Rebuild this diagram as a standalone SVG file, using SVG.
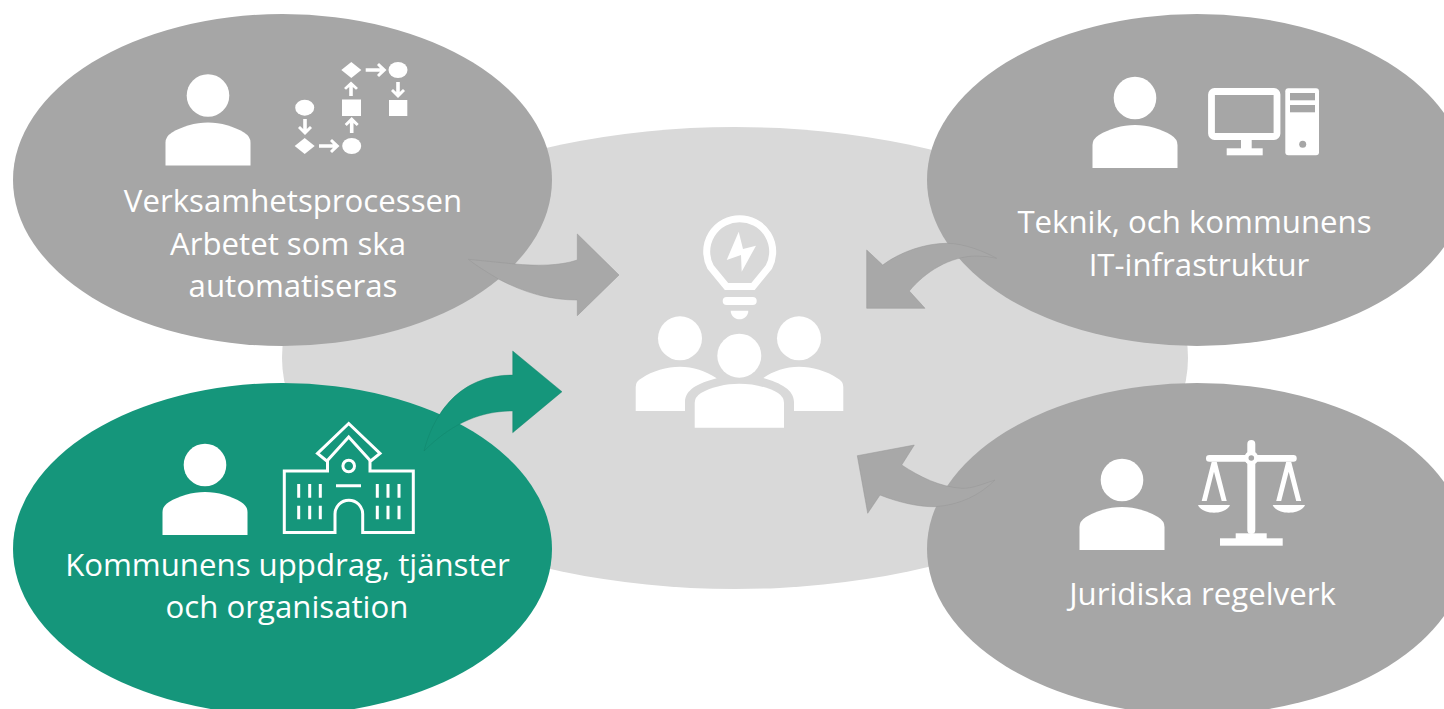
<svg xmlns="http://www.w3.org/2000/svg" width="1444" height="709" viewBox="0 0 1444 709">
<style>
.g{fill:#a6a6a6}
.t{fill:#fff;font-family:"Open Sans","Noto Sans","Liberation Sans",sans-serif;font-size:31.2px;text-anchor:middle}
.w{fill:#fff}
.l{fill:none;stroke:#fff;stroke-width:3}
.ag{fill:#a8a8a8;stroke:#979797;stroke-width:.5}
</style>
<defs>
<g id="person"><circle cx="0" cy="0" r="21.3" fill="#fff"/><path fill="#fff" d="M-42.5 70V47Q-42.5 41-36 37C-26 31-13 27 0 27C13 27 26 31 36 37Q42.5 41 42.5 47V70Z"/></g>
<path id="ad" fill="#fff" d="M-1.8 0H1.8V10L5 7L7 9L0 16L-7 9L-5 7L-1.8 10Z"/>
<path id="dia" fill="#fff" d="M-10 0L0-8L10 0L0 8Z"/>
</defs>
<rect width="1444" height="709" fill="#fff"/>
<g id="center">
<ellipse cx="735" cy="358" rx="453" ry="231" fill="#d9d9d9"/>
<g id="bulb">
<path d="M726.5 286.5L710.5 267A33 33 0 1 1 768.9 267L753 286.5Z" fill="none" stroke="#fff" stroke-width="7"/>
<path class="w" d="M738.7 231.7L726.7 260L741 255L741.7 271.7L756 245.7L743 249Z"/>
<rect class="w" x="722.7" y="297" width="34" height="8" rx="4"/>
<path class="w" d="M730.7 310.7H748.3C748.3 316 744 319.3 739.5 319.3C735 319.3 730.7 316 730.7 310.7Z"/>
</g>
<g id="people">
<circle class="w" cx="680" cy="338.3" r="22"/><circle class="w" cx="799" cy="338.3" r="22"/><circle class="w" cx="739.3" cy="355.7" r="22"/>
<path class="w" d="M635.7 411V387Q635.7 381 642 378C652 371 667 366.7 680 366.7C693 366.7 706 371 716.7 378.3C698 383 685 390 685 402V411Z"/>
<path class="w" d="M843.3 411V387Q843.3 381 837 378C827 371 812 366.7 799 366.7C786 366.7 773 371 763.3 378C781 383 794 390 794 402V411Z"/>
<path class="w" d="M694.7 427.7V403Q694.7 397 701 393C711 387 726 383.7 739.3 383.7C753 383.7 768 387 778 393Q784 397 784 403V427.7Z"/>
</g>
</g>
<g id="node-process">
<ellipse class="g" cx="282.5" cy="180" rx="269.5" ry="166"/>
<use href="#person" x="208" y="95.5"/>
<g id="flow">
<ellipse class="w" cx="304.7" cy="107.7" rx="9.5" ry="8"/><use href="#ad" x="305" y="119"/>
<use href="#dia" x="304.7" y="146"/>
<path class="w" d="M319 144.3H333L330 141L332 139L339.5 146L332 153L330 151L333 147.7H319Z"/>
<ellipse class="w" cx="351.7" cy="146" rx="9.5" ry="8"/>
<use href="#ad" transform="translate(351.7 133) scale(1 -1)"/>
<rect class="w" x="342" y="99.5" width="19" height="16.5"/>
<use href="#ad" transform="translate(351 96) scale(1 -.9)"/>
<use href="#dia" x="351.3" y="70"/>
<path class="w" d="M365.7 68.3H380L377 65L379 63L386.5 70L379 77L377 75L380 71.7H365.7Z"/>
<ellipse class="w" cx="398" cy="70" rx="9.5" ry="8"/><use href="#ad" x="398" y="82"/>
<rect class="w" x="389" y="100" width="18.3" height="16"/>
</g>
<text class="t"><tspan x="293" y="212">Verksamhetsprocessen</tspan><tspan x="288" y="255">Arbetet som ska</tspan><tspan x="293" y="297">automatiseras</tspan></text>
</g>
<g id="node-tech">
<ellipse class="g" cx="1197" cy="180" rx="270" ry="166"/>
<use href="#person" x="1135" y="98"/>
<g id="computer">
<rect x="1211.5" y="91.5" width="65.5" height="45" rx="3" fill="none" stroke="#fff" stroke-width="6.8"/>
<rect class="w" x="1241" y="140" width="10.7" height="9"/><rect class="w" x="1226.7" y="148.3" width="36" height="7"/>
<rect class="w" x="1285.3" y="88.3" width="33.7" height="67" rx="3"/>
<rect class="g" x="1290" y="93" width="25" height="7.3"/><rect class="g" x="1290" y="105" width="25" height="7.3"/>
<circle class="g" cx="1302.7" cy="144.3" r="3.5"/>
</g>
<text class="t"><tspan x="1194.5" y="233">Teknik, och kommunens</tspan><tspan x="1199" y="276">IT-infrastruktur</tspan></text>
</g>
<g id="node-law">
<ellipse class="g" cx="1197" cy="549" rx="270" ry="166"/>
<use href="#person" x="1122" y="480"/>
<g id="scales">
<rect class="w" x="1247.3" y="440" width="8" height="94" rx="4"/>
<rect class="w" x="1206" y="455" width="90.7" height="6.7" rx="3.3"/>
<circle class="w" cx="1251.3" cy="458" r="7"/><circle class="g" cx="1251.3" cy="458" r="2.8"/>
<rect class="w" x="1235.7" y="533.3" width="31" height="6"/><rect class="w" x="1220" y="538.3" width="62.7" height="7.4"/>
<path class="w" d="M1211.7 461.7H1216.7L1226.7 501H1221.7L1214 471.7L1206.7 501H1201.7Z"/>
<path class="w" d="M1198 505H1230C1228 510 1221 512.7 1214 512.7C1207 512.7 1200 510 1198 505Z"/>
<path class="w" d="M1286.2 461.7H1291.2L1301.2 501H1296.2L1288.7 471.7L1281.2 501H1276.2Z"/>
<path class="w" d="M1272.7 505H1305C1303 510 1296 512.7 1288.7 512.7C1281.7 512.7 1274.7 510 1272.7 505Z"/>
</g>
<text class="t"><tspan x="1202.5" y="605">Juridiska regelverk</tspan></text>
</g>
<g id="node-mission">
<ellipse cx="282.5" cy="549" rx="269.5" ry="166" fill="#15967b"/>
<use href="#person" x="205" y="465"/>
<g id="building">
<path class="l" d="M335 532.5H284.3V471H327.5V461.5L317.5 453.5L348.7 423.5L380 453.5L370 461.5V471H413.3V532.5H362.7V514A13.85 13.85 0 0 0 335 514Z"/>
<path class="l" d="M326.5 461.5L348.7 437L371 461.5"/>
<circle class="l" cx="348.7" cy="466" r="5.8"/>
<path class="l" d="M336 485.7H361M298.7 484V497.7M309.7 484V497.7M320.3 484V497.7M377.3 484V497.7M388 484V497.7M399 484V497.7M298.7 505.7V519.3M309.7 505.7V519.3M320.3 505.7V519.3M377.3 505.7V519.3M388 505.7V519.3M399 505.7V519.3"/>
</g>
<text class="t"><tspan x="287.5" y="576">Kommunens uppdrag, tjänster</tspan><tspan x="287" y="618">och organisation</tspan></text>
</g>
<g id="connectors">
<path class="ag" d="M468.3 259.3L515 264C535 266 560 266 577.3 260V234L619 275L577.3 315.7V300C550 300 525 293 498.3 279C487 272 478 267 468.3 259.3Z"/>
<path class="ag" d="M996.7 258.3C985 252 965 243.3 946.7 243.3C925 243.3 900 252 882.7 265L866.7 250V308.3H925L909.3 291C925 272 950 256 976.7 256Q987 256 996.7 258.3Z"/>
<path class="ag" d="M995 480C980 485 972 488.5 962 488.3C940 487 920 477 901.7 465L914.3 445L857.3 455.7L867.7 513.3L880 495C900 503 920 507 935 506.7C960 505 980 495 995 480Z"/>
<path d="M424 451C432 420 455 375 512.7 375V351L562 391.7L512.7 432.7V411C485 411 455 420 424 451Z" fill="#15967b" stroke="#128068" stroke-width=".4"/>
</g>
</svg>
